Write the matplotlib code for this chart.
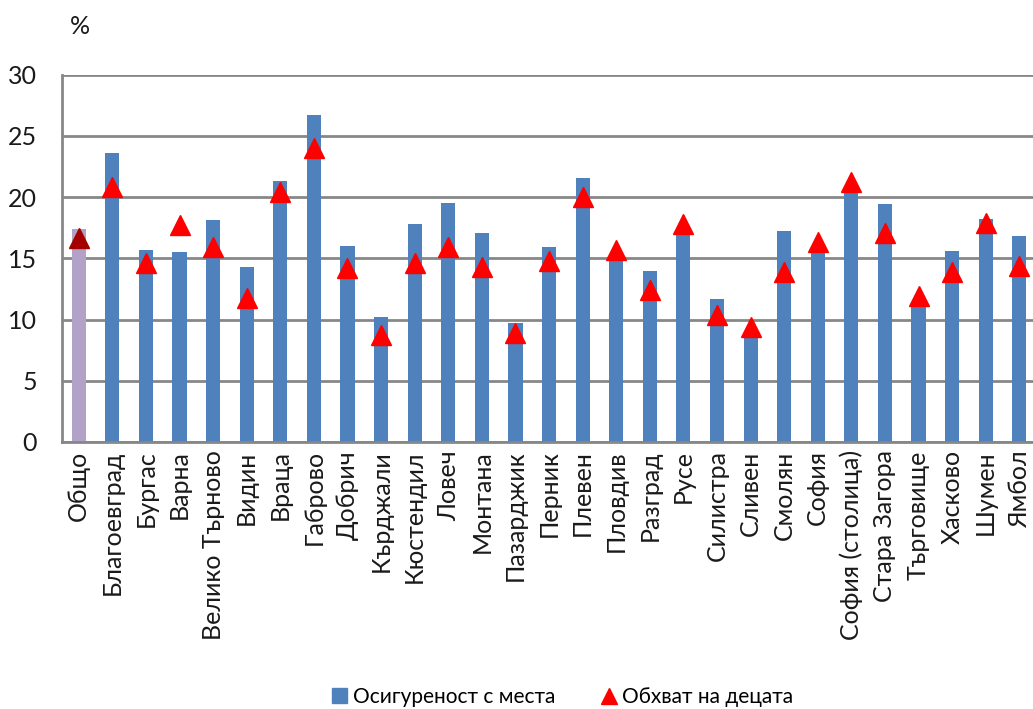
import numpy as np
import matplotlib.pyplot as plt
from matplotlib.patches import Patch
from matplotlib.lines import Line2D

plt.rcParams['font.family'] = ['Lato', 'DejaVu Sans']

regions = ["Общо", "Благоевград", "Бургас", "Варна", "Велико Търново", "Видин",
           "Враца", "Габрово", "Добрич", "Кърджали", "Кюстендил", "Ловеч",
           "Монтана", "Пазарджик", "Перник", "Плевен", "Пловдив", "Разград",
           "Русе", "Силистра", "Сливен", "Смолян", "София", "София (столица)",
           "Стара Загора", "Търговище", "Хасково", "Шумен", "Ямбол"]
places = [17.4, 23.6, 15.7, 15.5, 18.1, 14.3, 21.3, 26.7, 16.0, 10.2, 17.8, 19.5,
          17.1, 9.7, 15.9, 21.6, 15.1, 14.0, 17.0, 11.7, 9.0, 17.2, 15.5, 20.6,
          19.4, 11.3, 15.6, 18.2, 16.8]
coverage = [16.7, 20.8, 14.6, 17.7, 15.9, 11.8, 20.4, 24.0, 14.2, 8.7, 14.6, 15.9,
            14.3, 8.9, 14.8, 20.0, 15.7, 12.4, 17.8, 10.4, 9.4, 13.9, 16.3, 21.2,
            17.1, 11.9, 13.9, 17.9, 14.4]

fig = plt.figure(figsize=(10.33, 7.09), dpi=100)
ax = fig.add_axes([0.060, 0.3766, 0.943, 0.518])

x = np.arange(len(regions))
bar_colors = ['#B3A2C7'] + ['#4F81BD'] * (len(regions) - 1)
ax.bar(x, places, width=0.42, color=bar_colors, zorder=2)
tri_colors = ['#A50000'] + ['#FF0000'] * (len(regions) - 1)
for xi, v, c in zip(x, coverage, tri_colors):
    ax.plot(xi, v, marker='^', color=c, markersize=15, linestyle='none', zorder=3)

ax.set_xlim(-0.5, len(regions) - 0.5)
ax.set_ylim(0, 30)
ax.set_yticks(range(0, 31, 5))
ax.yaxis.grid(True, color='#878787', linewidth=2)
ax.set_axisbelow(True)
for s in ['top', 'right']:
    ax.spines[s].set_visible(False)
for s in ['left', 'bottom']:
    ax.spines[s].set_color('#878787')
    ax.spines[s].set_linewidth(2)
ax.tick_params(axis='both', length=0, labelsize=18, colors='#1a1a1a')
ax.tick_params(axis='y', pad=18)
ax.set_xticks(x)
ax.set_xticklabels(regions, rotation=90)
ax.tick_params(axis='x', pad=6)

fig.text(0.068, 0.963, '%', fontsize=18, ha='left', va='center', color='#1a1a1a')

handles = [Patch(color='#4F81BD', label='Осигуреност с места'),
           Line2D([], [], marker='^', color='#FF0000', linestyle='none',
                  markersize=12, label='Обхват на децата')]
fig.legend(handles=handles, loc='center', bbox_to_anchor=(0.545, 0.017),
           ncol=2, frameon=False, fontsize=15, handlelength=0.7,
           handletextpad=0.3, columnspacing=2.2)

fig.savefig('out.png', dpi=100)
